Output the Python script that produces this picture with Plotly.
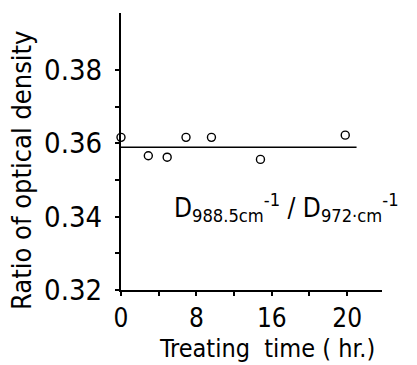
import plotly.graph_objects as go

# Treating time (hr, axis units) and ratio D988.5 / D972
treat_time = [0, 2.9, 4.9, 6.9, 9.6, 14.8, 23.8]
od_ratio = [0.3616, 0.3566, 0.3562, 0.3616, 0.3616, 0.3556, 0.3622]

# Mean level line
mean_x = [0, 25.0]
mean_y = [0.3589, 0.3589]

x_tick_vals = [0, 4, 8, 12, 16, 20, 24]
x_tick_text = ["0", "", "8", "", "16", "", "20"]
y_tick_vals = [0.32, 0.33, 0.34, 0.35, 0.36, 0.37, 0.38]
y_tick_text = ["0.32", "", "0.34", "", "0.36", "", "0.38"]

FONT = "DejaVu Sans Condensed, DejaVu Sans"

fig = go.Figure()
fig.add_trace(go.Scatter(
    x=mean_x, y=mean_y, mode="lines",
    line=dict(color="black", width=1.4), showlegend=False, hoverinfo="skip",
))
fig.add_trace(go.Scatter(
    x=treat_time, y=od_ratio, mode="markers",
    marker=dict(symbol="circle-open", size=8, color="black", line=dict(width=1.4)),
    cliponaxis=False, showlegend=False,
))

fig.add_annotation(
    x=5.4, y=0.3426, xref="x", yref="y", xanchor="left", yanchor="middle",
    text="D<sub>988.5cm</sub><sup>-1</sup> / D<sub>972·cm</sub><sup>-1</sup>",
    showarrow=False, font=dict(family=FONT, size=26, color="black"),
)
fig.add_annotation(
    x=0.559, y=-0.212, xref="paper", yref="paper", xanchor="center", yanchor="middle",
    text="Treating  time ( hr.)", showarrow=False,
    font=dict(family=FONT, size=25, color="black"),
)
fig.add_annotation(
    x=-0.379, y=0.43, xref="paper", yref="paper", xanchor="center", yanchor="middle",
    text="Ratio of optical density", textangle=-90, showarrow=False,
    font=dict(family=FONT, size=27, color="black"),
)

fig.update_xaxes(
    range=[0, 27.7], showline=True, linecolor="black", linewidth=2,
    ticks="outside", ticklen=4, tickwidth=1.5, tickcolor="black",
    tickvals=x_tick_vals, ticktext=x_tick_text, ticklabelstandoff=0,
    showgrid=False, zeroline=False,
    tickfont=dict(family=FONT, size=26, color="black"),
)
fig.update_yaxes(
    range=[0.32, 0.3955], showline=True, linecolor="black", linewidth=2,
    ticks="outside", ticklen=4, tickwidth=1.5, tickcolor="black",
    tickvals=y_tick_vals, ticktext=y_tick_text, ticklabelstandoff=7,
    showgrid=False, zeroline=False,
    tickfont=dict(family=FONT, size=29, color="black"),
)
fig.update_layout(
    width=417, height=365,
    margin=dict(l=121, r=35, t=13, b=75),
    paper_bgcolor="white", plot_bgcolor="white",
)

fig.write_html("out.html")
